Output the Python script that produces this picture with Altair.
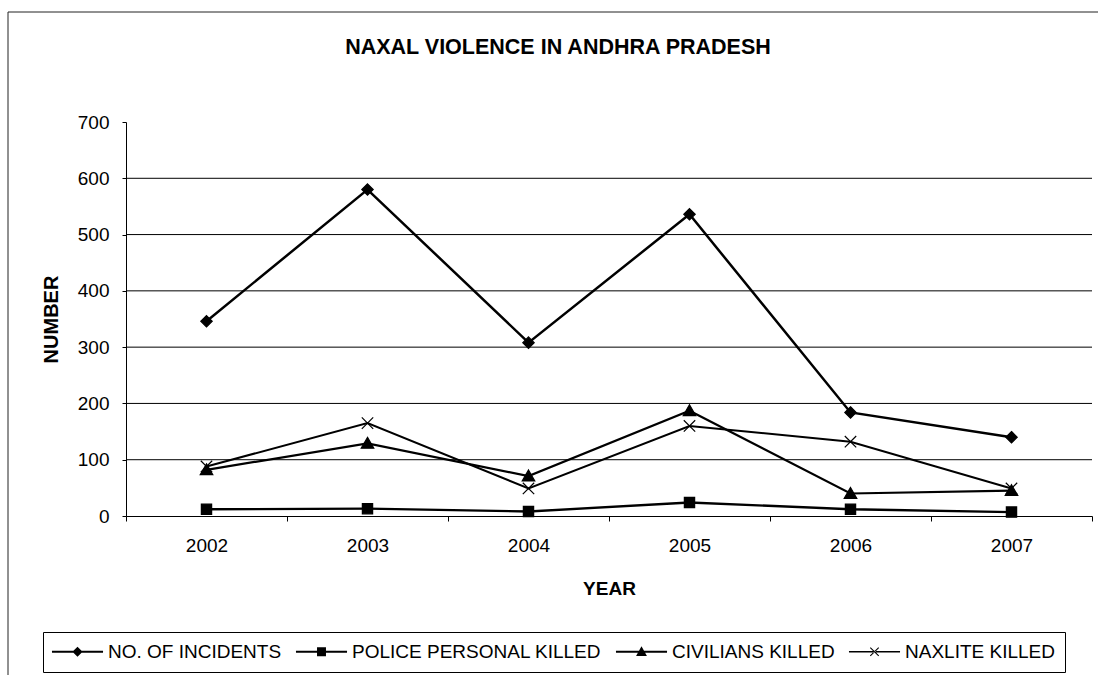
import altair as alt
import pandas as pd

# ---- data -------------------------------------------------------------
years = ["2002", "2003", "2004", "2005", "2006", "2007"]
series_names = [
    "NO. OF INCIDENTS",
    "POLICE PERSONAL KILLED",
    "CIVILIANS KILLED",
    "NAXLITE KILLED",
]
incidents = [346, 580, 308, 536, 184, 140]
police_killed = [12, 13, 8, 24, 12, 7]
civilians_killed = [82, 129, 71, 187, 40, 45]
naxalites_killed = [88, 165, 49, 160, 132, 49]
y_ticks = [0, 100, 200, 300, 400, 500, 600, 700]
grid_values = [100, 200, 300, 400, 500, 600]

FONT = "Liberation Sans"

rows = []
for name, vals in zip(series_names,
                      [incidents, police_killed, civilians_killed, naxalites_killed]):
    for yr, v in zip(years, vals):
        rows.append({"year": yr, "series": name, "value": v})
df = pd.DataFrame(rows)

# ---- marker shapes (unit paths) ----------------------------------------
marker_paths = [
    "M0,-1L1,0L0,1L-1,0Z",            # diamond
    "M-0.9,-0.9H0.9V0.9H-0.9Z",       # square
    "M0,-1.05L1.1,0.85H-1.1Z",        # triangle
    "M-1,-1L1,1M-1,1L1,-1",           # x
]
# legend keys: a thin filled bar (the line) with the marker in its middle,
# everything built from filled outlines so that only a fill is needed
legend_paths = [
    "M-4,-0.17H4V0.17H-4ZM0,-0.8L0.8,0L0,0.8L-0.8,0Z",
    "M-4,-0.14H4V0.14H-4ZM-0.7,-0.7H0.7V0.7H-0.7Z",
    "M-4,-0.17H4V0.17H-4ZM0,-0.85L0.85,0.65H-0.85Z",
    "M-4,-0.1H4V0.1H-4Z"
    "M-0.72,-0.6L-0.6,-0.72L0.72,0.6L0.6,0.72Z"
    "M0.72,-0.6L0.6,-0.72L-0.72,0.6L-0.6,0.72Z",
]
line_widths = [2.5, 2.0, 2.5, 1.2]

W, H = 966, 394

x_enc = alt.X(
    "year:O",
    bandPosition=0.5,
    scale=alt.Scale(type="band", paddingInner=0, paddingOuter=0, domain=years),
    axis=alt.Axis(
        title="YEAR",
        tickBand="extent",
        labelAngle=0,
        grid=False,
        domainColor="black",
        tickColor="black",
        tickSize=5,
        labelFont=FONT,
        labelFontSize=19,
        labelColor="black",
        labelPadding=15,
        titleFont=FONT,
        titleFontSize=19,
        titleFontWeight="bold",
        titleColor="black",
        titleY=72,
        titleBaseline="middle",
        zindex=1,
    ),
)
y_enc = alt.Y(
    "value:Q",
    scale=alt.Scale(domain=[0, 700], nice=False, zero=True),
    axis=alt.Axis(
        title="NUMBER",
        values=y_ticks,
        grid=False,
        domainColor="black",
        tickColor="black",
        tickSize=4,
        labelFont=FONT,
        labelFontSize=19,
        labelColor="black",
        labelPadding=13,
        titleFont=FONT,
        titleFontSize=20,
        titleFontWeight="bold",
        titleColor="black",
        titleX=-75,
        titleAngle=270,
        titleBaseline="middle",
        zindex=1,
    ),
)

# outer chart frame
frame = alt.Chart(pd.DataFrame({"k": [0]})).mark_rect(
    fill="transparent", stroke="#222222", strokeWidth=1
).encode(
    x=alt.value(-118), x2=alt.value(1010), y=alt.value(-110), y2=alt.value(600)
)

# horizontal gridlines at every 100 below the top of the axis
grid = alt.Chart(pd.DataFrame({"value": grid_values})).mark_rule(
    color="black", strokeWidth=1
).encode(y=y_enc)

base = alt.Chart(df)

lines = base.mark_line(color="black").encode(
    x=x_enc,
    y=y_enc,
    detail="series:N",
    strokeWidth=alt.StrokeWidth(
        "series:N",
        scale=alt.Scale(domain=series_names, range=line_widths),
        legend=None,
    ),
)

points = base.mark_point(
    filled=True, color="black", stroke="black", strokeWidth=1.2, size=130, opacity=1
).encode(
    x=x_enc,
    y=y_enc,
    shape=alt.Shape(
        "series:N",
        scale=alt.Scale(domain=series_names, range=marker_paths),
        legend=None,
    ),
)

legend_layer = base.mark_point(
    filled=True, color="black", opacity=0
).encode(
    x=x_enc,
    y=y_enc,
    shape=alt.Shape(
        "series:N",
        scale=alt.Scale(domain=series_names, range=legend_paths),
        legend=alt.Legend(
            title=None,
            orient="none",
            legendX=-83,
            legendY=510,
            direction="horizontal",
            columns=4,
            columnPadding=13,
            padding=10,
            strokeColor="black",
            symbolSize=163,
            symbolOffset=15,
            labelOffset=21,
            labelLimit=0,
            symbolOpacity=1,
            symbolFillColor="black",
            symbolStrokeWidth=0,
            labelFont=FONT,
            labelFontSize=19,
            labelColor="black",
        ),
    ),
)

chart = (
    alt.layer(frame, grid, lines, points, legend_layer)
    .resolve_scale(shape="independent")
    .properties(
        width=W,
        height=H,
        title=alt.TitleParams(
            "NAXAL VIOLENCE IN ANDHRA PRADESH",
            font=FONT,
            fontSize=21.5,
            fontWeight="bold",
            color="black",
            anchor="middle",
            dx=-51,
            offset=-47,
        ),
        autosize=alt.AutoSizeParams(type="none"),
        padding={"left": 126, "top": 122, "right": 6, "bottom": 159},
        background="white",
    )
    .configure_view(stroke=None)
)

chart.save("out.html", embed_options={"renderer": "svg", "actions": False})
